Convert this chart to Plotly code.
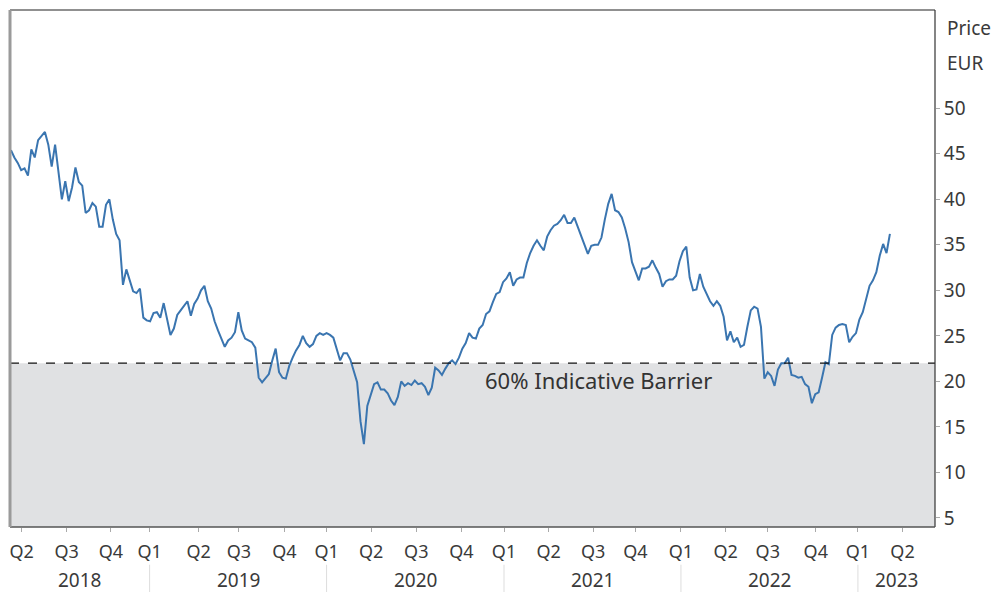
import pandas as pd
import plotly.graph_objects as go

# ---- data (weekly closes) ----
start_date = "2018-03-21"
prices = [
    45.4, 44.6, 44.0, 43.2, 43.4, 42.6, 45.5, 44.6, 46.5, 47.0,
    47.4, 46.0, 43.6, 46.0, 43.0, 40.0, 42.0, 39.8, 41.3, 43.5,
    41.9, 41.5, 38.5, 38.8, 39.6, 39.2, 37.0, 37.0, 39.4, 40.0,
    37.8, 36.2, 35.5, 30.6, 32.3, 31.0, 29.9, 29.7, 30.2, 27.0,
    26.7, 26.6, 27.5, 27.6, 27.0,
    28.6, 26.8, 25.1, 25.8, 27.3, 27.8, 28.3, 28.8, 27.2, 28.5,
    29.1, 30.0, 30.5, 28.8, 28.0, 26.6, 25.6, 24.7, 23.8, 24.5,
    24.8, 25.4, 27.6, 25.6, 24.7, 24.5, 24.3, 23.7, 20.4, 19.9,
    20.3, 20.8, 22.3, 23.6, 21.0, 20.4, 20.3, 21.7, 22.6, 23.4,
    24.0, 25.0, 24.2,
    23.8, 24.1, 25.0, 25.3, 25.1, 25.3, 25.1, 24.8, 23.6, 22.3,
    23.1, 23.1, 22.4, 21.0, 19.9, 15.6, 13.1, 17.3, 18.6, 19.7,
    19.9, 19.1, 19.1, 18.7, 17.9, 17.4, 18.3, 20.0, 19.5, 19.8,
    19.6, 20.1, 19.7, 19.8, 19.4, 18.5, 19.3, 21.5, 21.2, 20.7,
    21.4, 22.0, 22.3, 21.9, 22.6,
    23.6, 24.2, 25.3, 24.8, 24.7, 25.8, 26.2, 27.4, 27.7, 28.7,
    29.6, 29.8, 30.9, 31.3, 32.0, 30.5, 31.2, 31.4, 31.4, 33.0,
    34.1, 34.9, 35.5, 34.9, 34.4, 35.9, 36.6, 37.1, 37.3, 37.7,
    38.3, 37.4, 37.4, 38.0, 37.0, 36.0, 35.0, 34.0, 34.9, 35.0,
    35.0, 35.8, 37.8, 39.5,
    40.6, 38.8, 38.6, 38.0, 36.8, 35.3, 33.1, 32.2, 31.1, 32.4,
    32.4, 32.6, 33.3, 32.5, 31.8, 30.4, 31.0, 31.2, 31.2, 31.6,
    33.2, 34.3, 34.8, 31.4, 30.0, 30.1, 31.8, 30.4, 29.5, 28.8,
    28.3, 28.8, 28.3, 27.1, 24.5, 25.5, 24.3, 24.8, 23.8, 24.0,
    26.0, 27.8, 28.2, 28.0,
    26.0, 20.3, 21.0, 20.6, 19.5, 21.3, 22.0, 22.0, 22.6, 20.7,
    20.6, 20.4, 20.5, 19.7, 19.4, 17.6, 18.6, 18.8, 20.4, 22.1,
    21.9, 25.1, 25.9, 26.2, 26.3, 26.2, 24.3, 24.9, 25.3, 26.8,
    27.6, 29.2, 30.5, 31.1, 32.0, 33.8, 35.1, 34.1, 36.2,
]
dates = pd.date_range(start_date, periods=len(prices), freq="7D")

barrier = 22.0
barrier_label = "60% Indicative Barrier"

quarter_ticks = [
    "2018-04-12", "2018-07-14", "2018-10-13",
    "2019-01-01", "2019-04-12", "2019-07-04", "2019-10-06",
    "2020-01-01", "2020-04-02", "2020-07-04", "2020-10-05",
    "2021-01-01", "2021-04-03", "2021-07-04", "2021-09-29",
    "2022-01-01", "2022-04-03", "2022-06-29", "2022-10-06",
    "2023-01-01", "2023-04-03",
]
quarter_labels = [
    "Q2", "Q3", "Q4",
    "Q1", "Q2", "Q3", "Q4",
    "Q1", "Q2", "Q3", "Q4",
    "Q1", "Q2", "Q3", "Q4",
    "Q1", "Q2", "Q3", "Q4",
    "Q1", "Q2",
]
years = ["2018", "2019", "2020", "2021", "2022", "2023"]
y_ticks = [5, 10, 15, 20, 25, 30, 35, 40, 45, 50]

x_range = ["2018-03-19", "2023-06-09"]
y_range = [4.0, 60.8]

FONT = "Noto Sans"
TXT = "#3a3a3a"

fig = go.Figure()
fig.add_trace(go.Scatter(
    x=dates, y=prices, mode="lines",
    line=dict(color="#3a75b0", width=2),
    hoverinfo="skip", showlegend=False,
))

shapes = []
# grey area below the barrier
shapes.append(dict(type="rect", xref="paper", yref="y", x0=0, x1=1,
                   y0=y_range[0], y1=barrier, fillcolor="#e0e1e3",
                   line=dict(width=0), layer="below"))
# barrier dashed line
shapes.append(dict(type="line", xref="paper", yref="y", x0=0, x1=1,
                   y0=barrier, y1=barrier,
                   line=dict(color="#111111", width=1.2, dash="dash")))
# frame
shapes.append(dict(type="line", xref="paper", yref="paper", x0=0, x1=1, y0=1, y1=1,
                   line=dict(color="#222222", width=1.2)))
shapes.append(dict(type="line", xref="paper", yref="paper", x0=1, x1=1, y0=0, y1=1,
                   line=dict(color="#333333", width=1.2)))
shapes.append(dict(type="line", xref="paper", yref="paper", x0=0, x1=1, y0=0, y1=0,
                   line=dict(color="#555555", width=1.5)))
shapes.append(dict(type="line", xref="paper", yref="paper", x0=0, x1=0, y0=0, y1=1,
                   line=dict(color="#9a9a9a", width=3)))

# year separators below the axis
for yr in years[1:]:
    shapes.append(dict(type="line", xref="x", yref="paper",
                       x0=f"{yr}-01-01", x1=f"{yr}-01-01", y0=-0.073, y1=-0.13,
                       line=dict(color="#dddddd", width=1)))

annotations = []
# year labels centred in their visible span
x0 = pd.Timestamp(x_range[0]); x1 = pd.Timestamp(x_range[1])
for yr in years:
    a = max(pd.Timestamp(f"{yr}-01-01"), x0)
    b = min(pd.Timestamp(f"{int(yr)+1}-01-01"), x1)
    mid = a + (b - a) / 2
    annotations.append(dict(x=mid, y=-0.1025, xref="x", yref="paper", text=yr,
                            showarrow=False, xanchor="center", yanchor="middle",
                            font=dict(family=FONT, size=19, color=TXT)))

annotations.append(dict(x="2021-07-14", y=20.1, xref="x", yref="y", text=barrier_label,
                        showarrow=False, xanchor="center", yanchor="middle",
                        font=dict(family=FONT, size=22, color="#333333")))
annotations.append(dict(x=1.0105, y=0.965, xref="paper", yref="paper", text="Price",
                        showarrow=False, xanchor="left", yanchor="middle",
                        font=dict(family=FONT, size=19, color=TXT)))
annotations.append(dict(x=1.0105, y=0.897, xref="paper", yref="paper", text="EUR",
                        showarrow=False, xanchor="left", yanchor="middle",
                        font=dict(family=FONT, size=19, color=TXT)))

fig.update_layout(
    width=995, height=592,
    margin=dict(l=10, r=60, t=10, b=65),
    paper_bgcolor="white", plot_bgcolor="white",
    shapes=shapes, annotations=annotations,
    xaxis=dict(
        type="date", range=x_range,
        tickvals=quarter_ticks, ticktext=quarter_labels,
        ticks="outside", ticklen=4, tickcolor="#aaaaaa", tickwidth=1,
        tickfont=dict(family=FONT, size=18, color=TXT),
        showgrid=False, zeroline=False, showline=False,
        ticklabelstandoff=4,
    ),
    yaxis=dict(
        side="right", range=y_range,
        tickvals=y_ticks,
        ticks="outside", ticklen=4, tickcolor="#aaaaaa", tickwidth=1,
        tickfont=dict(family=FONT, size=19, color=TXT),
        showgrid=False, zeroline=False, showline=False,
    ),
)

fig.write_html("out.html",
               config={"displayModeBar": False},
               post_script="document.body.style.margin='0';document.body.style.overflow='hidden';")
